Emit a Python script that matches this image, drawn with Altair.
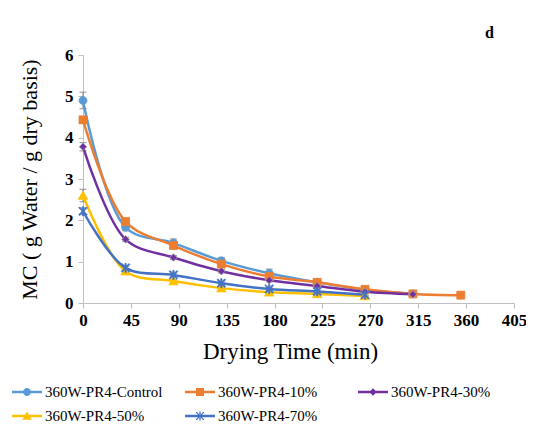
import altair as alt
import pandas as pd

times = [0, 40, 85, 130, 175, 220, 265, 310, 355]
series = ["360W-PR4-Control", "360W-PR4-10%", "360W-PR4-30%", "360W-PR4-50%", "360W-PR4-70%"]
mc_control = [4.90, 1.83, 1.45, 1.02, 0.72, 0.50, 0.32, 0.22]
mc_10 = [4.43, 1.97, 1.39, 0.94, 0.64, 0.50, 0.33, 0.22, 0.19]
mc_30 = [3.78, 1.54, 1.10, 0.77, 0.55, 0.41, 0.27, 0.21]
mc_50 = [2.60, 0.77, 0.53, 0.36, 0.26, 0.22, 0.17]
mc_70 = [2.22, 0.85, 0.68, 0.48, 0.34, 0.28, 0.20]
err_control = [0.20, 0.08, 0.10, 0.08, 0.10, 0.05, 0.03, 0.02]
err_10 = [0.06, 0.05, 0.05, 0.05, 0.04, 0.04, 0.03, 0.02, 0.02]
err_30 = [0.10, 0.05, 0.05, 0.04, 0.04, 0.03, 0.02, 0.02]
err_50 = [0.15, 0.04, 0.04, 0.03, 0.03, 0.02, 0.02]
err_70 = [0.08, 0.04, 0.04, 0.03, 0.03, 0.02, 0.02]
colors = ["#5B9BD5", "#ED7D31", "#7030A0", "#FFC000", "#4472C4"]
strokes = ["#5B9BD5", "#ED7D31", "#A5A5A5", "#FFC000", "#4472C4"]
x_ticks = [0, 45, 90, 135, 180, 225, 270, 315, 360, 405]
y_ticks = [0, 1, 2, 3, 4, 5, 6]

rows = []
for name, vals, errs in zip(series, [mc_control, mc_10, mc_30, mc_50, mc_70],
                            [err_control, err_10, err_30, err_50, err_70]):
    for t, v, e in zip(times, vals, errs):
        rows.append({"series": name, "t": t, "mc": v, "lo": v - e, "hi": v + e})
df = pd.DataFrame(rows)

CIRCLE = "M0.444,0A0.444,0.444,0,1,1,-0.444,0A0.444,0.444,0,1,1,0.444,0Z"
SQUARE = "M-0.444,-0.444H0.444V0.444H-0.444Z"
DIAMOND = "M0,-0.42L0.42,0L0,0.42L-0.42,0Z"
TRIANGLE = "M0,-0.5L0.52,0.42H-0.52Z"
STAR = ("M-0.07,-0.5H0.07V0.5H-0.07Z"
        "M-0.38,-0.48L0.48,0.38L0.38,0.48L-0.48,-0.38Z"
        "M0.48,-0.38L-0.38,0.48L-0.48,0.38L0.38,-0.48Z")
LINE = "M-1.667,-0.14H1.667V0.14H-1.667Z"
markers = [CIRCLE, SQUARE, DIAMOND, TRIANGLE, STAR]
legend_paths = [LINE + m for m in markers]

FONT = "'Liberation Serif', 'DejaVu Serif', serif"
AXC = "#BFBFBF"

x = alt.X("t:Q", scale=alt.Scale(domain=[0, 405], nice=False),
          axis=alt.Axis(values=x_ticks, title="Drying Time (min)", grid=False,
                        domainColor=AXC, tickColor=AXC, tickSize=5, labelFlush=False,
                        labelFont=FONT, labelFontSize=17, labelFontWeight="bold",
                        labelColor="black", labelPadding=4,
                        titleFont=FONT, titleFontSize=23, titleFontWeight="normal",
                        titleColor="black", titlePadding=12, titleX=207))
y = alt.Y("mc:Q", scale=alt.Scale(domain=[0, 6], nice=False),
          axis=alt.Axis(values=y_ticks, title="MC ( g Water / g dry basis)", grid=False,
                        domainColor=AXC, tickColor=AXC, tickSize=5, labelFlush=False,
                        labelFont=FONT, labelFontSize=17, labelFontWeight="bold",
                        labelColor="black", labelPadding=5,
                        titleFont=FONT, titleFontSize=22, titleFontWeight="normal",
                        titleColor="black", titlePadding=23))

base = alt.Chart(df)

err_rule = base.mark_rule(color="#7F7F7F", strokeWidth=1).encode(
    x=x, y=alt.Y("lo:Q", scale=alt.Scale(domain=[0, 6], nice=False)), y2="hi:Q")
cap_hi = base.mark_tick(color="#7F7F7F", thickness=1.2, size=7, orient="horizontal").encode(
    x="t:Q", y="hi:Q")
cap_lo = base.mark_tick(color="#7F7F7F", thickness=1.2, size=7, orient="horizontal").encode(
    x="t:Q", y="lo:Q")

lines = base.mark_line(interpolate="catmull-rom", strokeWidth=2.5).encode(
    x=x, y=y,
    color=alt.Color("series:N", scale=alt.Scale(domain=series, range=colors), legend=None),
    detail="series:N")

points = base.mark_point(filled=True, size=324, opacity=1, strokeWidth=0.8).encode(
    x="t:Q", y="mc:Q",
    color=alt.Color("series:N", scale=alt.Scale(domain=series, range=colors), legend=None),
    stroke=alt.Stroke("series:N", scale=alt.Scale(domain=series, range=strokes), legend=None),
    shape=alt.Shape("series:N", scale=alt.Scale(domain=series, range=markers), legend=None))

leg = dict(title=None, orient="none", legendX=-65, legendY=328, columns=3, gridAlign="all",
           direction="horizontal",
           columnPadding=21, rowPadding=7, symbolSize=324, labelOffset=9,
           labelFont=FONT, labelFontSize=15, labelColor="black", padding=0,
           symbolOpacity=1, symbolStrokeWidth=0, labelLimit=300)

legend_layer = base.transform_filter("false").mark_point(filled=True, opacity=1).encode(
    x="t:Q", y="mc:Q",
    color=alt.Color("series:N", scale=alt.Scale(domain=series, range=colors), legend=alt.Legend(**leg)),
    shape=alt.Shape("series:N", scale=alt.Scale(domain=series, range=legend_paths), legend=alt.Legend(**leg)))

chart = alt.layer(err_rule, cap_hi, cap_lo, lines, points, legend_layer).resolve_scale(
    color="independent", shape="independent"
).properties(
    width=431, height=248,
    padding={"left": 75, "top": 47, "right": 12, "bottom": 120},
    autosize="none",
    title=alt.TitleParams("d", anchor="end", fontSize=16, fontWeight="bold", font=FONT,
                          color="black", dx=-20, offset=5, frame="group"),
    background="white",
).configure_view(stroke=None)

chart.save("out.html", embed_options={"renderer": "svg", "actions": False})
